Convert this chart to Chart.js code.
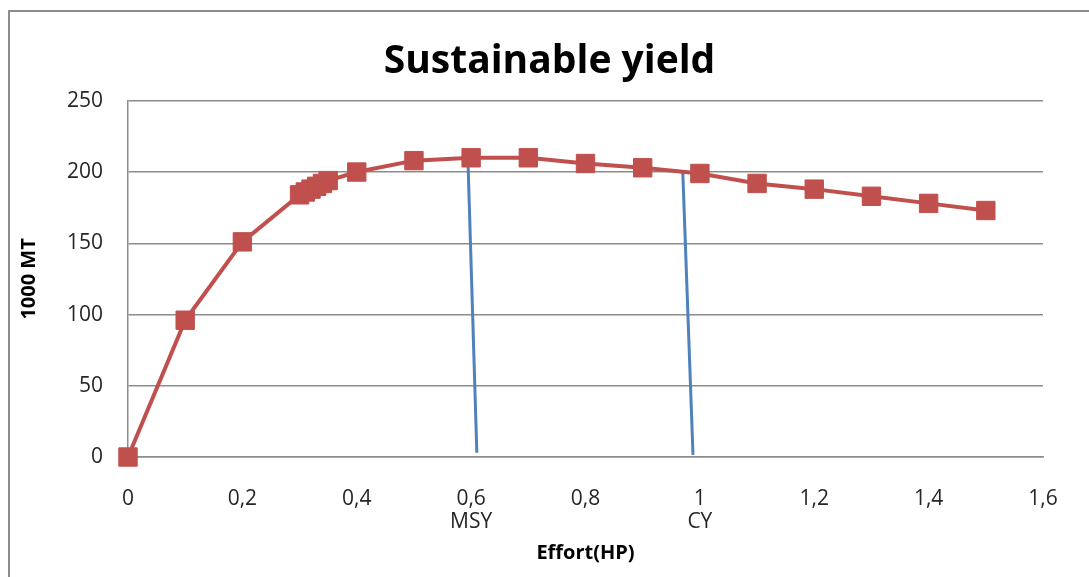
<!DOCTYPE html>
<html>
<head>
<meta charset="utf-8">
<script src="https://cdn.jsdelivr.net/npm/chart.js@4/dist/chart.umd.min.js"></script>
<style>
  body { margin: 0; background: #fff; overflow: hidden; }
  #box { position: absolute; left: 8px; top: 10px; width: 1100px; height: 600px; border: 2px solid #8c8c8c; box-sizing: border-box; }
  #wrap { position: absolute; left: 0; top: 0; width: 1079px; height: 567px; }
</style>
</head>
<body>
<div id="box"><div id="wrap"><canvas id="myChart"></canvas></div></div>
<script>
// effort vs sustainable yield (1000 MT)
const effort = [0, 0.1, 0.2, 0.3, 0.31, 0.32, 0.33, 0.34, 0.35, 0.4, 0.5, 0.6, 0.7, 0.8, 0.9, 1.0, 1.1, 1.2, 1.3, 1.4, 1.5];
const yieldValues = [0, 96, 151, 184, 186, 188, 190, 192, 194, 200, 208, 210, 210, 206, 203, 199, 192, 188, 183, 178, 173];

// reference lines drawn by hand in the original
const msyX = [0.594, 0.610];
const msyY = [214, 3];
const cyX = [0.970, 0.988];
const cyY = [201, 1.5];

const xTicks = { 0.6: 'MSY', 1: 'CY' };

function pts(xs, ys) {
    return xs.map((x, i) => ({ x: x, y: ys[i] }));
}

const ctx = document.getElementById('myChart').getContext('2d');
new Chart(ctx, {
    type: 'line',
    data: {
        datasets: [
            {
                data: pts(msyX, msyY),
                borderColor: '#4F81BD',
                borderWidth: 3,
                pointRadius: 0,
                order: 2
            },
            {
                data: pts(cyX, cyY),
                borderColor: '#4F81BD',
                borderWidth: 3,
                pointRadius: 0,
                order: 2
            },
            {
                data: pts(effort, yieldValues),
                borderColor: '#C0504D',
                backgroundColor: '#C0504D',
                borderWidth: 4,
                pointStyle: 'rect',
                pointRadius: 13,
                pointBorderWidth: 1,
                clip: false,
                order: 1
            }
        ]
    },
    options: {
        responsive: true,
        maintainAspectRatio: false,
        animation: false,
        layout: { padding: 0 },
        plugins: {
            legend: { display: false },
            tooltip: { enabled: false },
            title: {
                display: true,
                text: 'Sustainable yield',
                color: '#000',
                font: { family: 'Open Sans', size: 39, weight: 'bold', lineHeight: 1.2 },
                padding: { top: 26, bottom: 16 }
            }
        },
        scales: {
            x: {
                type: 'linear',
                min: 0,
                max: 1.6,
                afterFit: s => { s.height = 122; s.paddingRight = 46; },
                grid: { display: false, drawTicks: false },
                border: { color: '#8c8c8c', width: 1.5 },
                ticks: {
                    stepSize: 0.2,
                    color: '#262626',
                    padding: 30,
                    font: { family: 'Open Sans', size: 21, lineHeight: 1.1 },
                    maxRotation: 0,
                    callback: function(v) {
                        const k = Math.round(v * 10) / 10;
                        const lbl = String(k).replace('.', ',');
                        return xTicks[k] ? [lbl, xTicks[k]] : lbl;
                    }
                },
                title: {
                    display: true,
                    text: 'Effort(HP)',
                    color: '#000',
                    font: { family: 'Open Sans', size: 20, weight: 'bold', lineHeight: 1.2 },
                    padding: { top: 0, bottom: 14 }
                }
            },
            y: {
                min: 0,
                max: 250,
                afterFit: s => { s.width = 118; },
                grid: { color: '#8c8c8c', lineWidth: 1.5, drawTicks: false },
                border: { color: '#8c8c8c', width: 1.5 },
                ticks: {
                    stepSize: 50,
                    color: '#262626',
                    padding: 25,
                    font: { family: 'Open Sans', size: 21 }
                },
                title: {
                    display: true,
                    text: '1000 MT',
                    color: '#000',
                    font: { family: 'Open Sans', size: 20, weight: 'bold', lineHeight: 1.2 },
                    padding: { top: 7, bottom: 0 }
                }
            }
        }
    }
});
</script>
</body>
</html>
